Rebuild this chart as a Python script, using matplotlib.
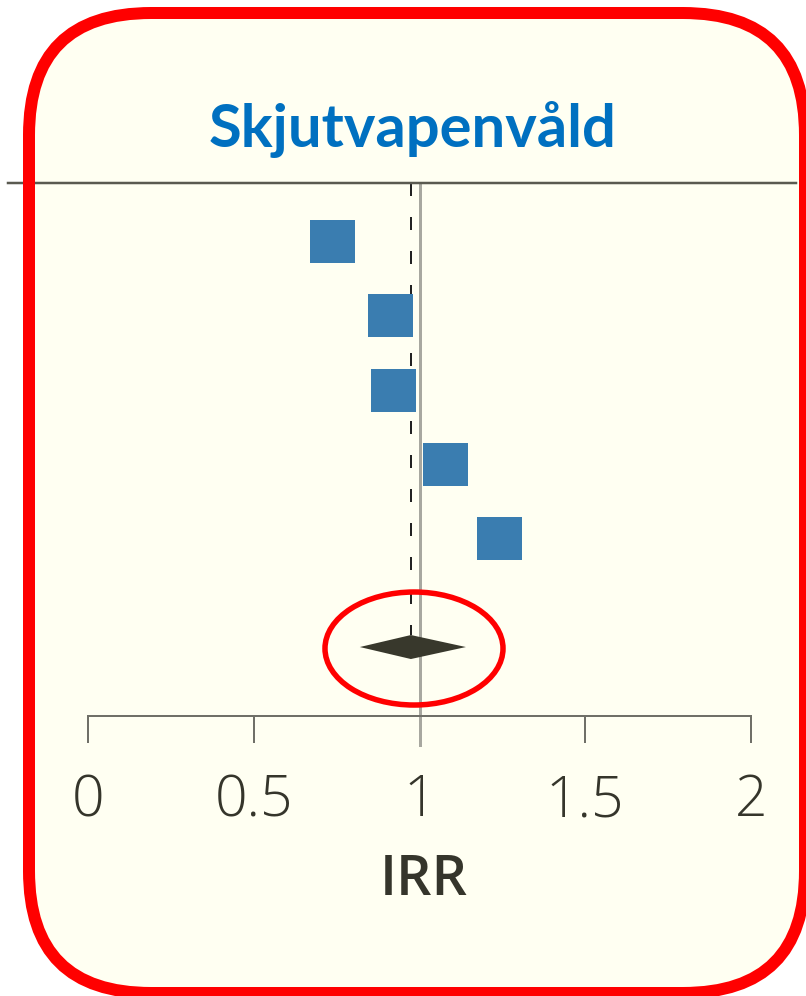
import matplotlib
matplotlib.use("Agg")
import matplotlib.pyplot as plt
from matplotlib.patches import Rectangle, Polygon, Ellipse, FancyBboxPatch
from matplotlib.transforms import IdentityTransform

# study estimates (IRR), top to bottom
irr = [0.739, 0.912, 0.923, 1.078, 1.241]
rows = [1, 2, 3, 4, 5]
# pooled estimate
pooled_est = 0.974
pooled_lo = 0.82
pooled_hi = 1.14
pooled_row = 6.464

xticks = [0, 0.5, 1, 1.5, 2]
xticklabels = ["0", "0.5", "1", "1.5", "2"]
title = "Skjutvapenvåld"
xlabel = "IRR"

W, H = 806, 996
DPI = 100
PX = 72 / DPI  # points per pixel

cream = "#fffff2"
blue_sq = "#3a7db0"
dark = "#38382c"
txt = "#35352b"

fig = plt.figure(figsize=(W / DPI, H / DPI), dpi=DPI)
fig.patch.set_facecolor("white")

# cream panel + red rounded frame (pixel coords)
box = dict(boxstyle="round,pad=0,rounding_size=122")
panel = FancyBboxPatch((29, H - 993), 776, 980, transform=IdentityTransform(),
                       facecolor=cream, edgecolor="none", zorder=-5, **box)
fig.patches.append(panel)
# flatten curves so the part running off the canvas is clipped cleanly
outline = panel.get_path().to_polygons()[0]
frame = Polygon(outline, closed=True, transform=IdentityTransform(), fill=False,
                edgecolor="#ff0000", lw=12 * PX, zorder=20)

ax = fig.add_axes([88 / W, (H - 716) / H, 663 / W, 533 / H])
ax.set_facecolor("none")
ax.set_xlim(0, 2)
ax.set_ylim(7.3935, 0.2102)
for s in ["top", "left", "right"]:
    ax.spines[s].set_visible(False)
ax.spines["bottom"].set_color("#707068")
ax.spines["bottom"].set_linewidth(2 * PX)
ax.set_yticks([])
ax.set_xticks(xticks)
ax.set_xticklabels(xticklabels, fontsize=41, color=txt, fontweight="light",
                   family=["Open Sans", "DejaVu Sans"])
ax.tick_params(axis="x", direction="out", length=27 * PX, width=2 * PX, color="#707068", pad=30 * PX)

# header rule
fig.add_artist(plt.Line2D([8 / W, 796 / W], [1 - 183 / H, 1 - 183 / H], color="#5a5a50",
                          lw=2.5 * PX, zorder=5))

# reference line at 1
ax.plot([1, 1], [0.2102, 7.784], color="#a8a8a0", lw=3 * PX, clip_on=False, zorder=2)

# dashed line at pooled estimate
sq_h = 0.5795
dm_h = 0.1617
ax.plot([pooled_est, pooled_est], [0.2102, pooled_row - dm_h], color="#222222",
        lw=2 * PX, dashes=(6.5, 10.5), dash_capstyle="butt", zorder=3)

# study squares
sq_w = 45 / 331.5
for x, r in zip(irr, rows):
    ax.add_patch(Rectangle((x - sq_w / 2, r - sq_h / 2), sq_w, sq_h,
                           facecolor=blue_sq, edgecolor="none", zorder=4))

# pooled diamond
ax.add_patch(Polygon([(pooled_lo, pooled_row), (pooled_est, pooled_row - dm_h),
                      (pooled_hi, pooled_row), (pooled_est, pooled_row + dm_h)],
                     closed=True, facecolor=dark, edgecolor="none", zorder=4))

# red highlight ellipse
ax.add_patch(Ellipse((0.9834, 6.484), 0.537, 1.523, facecolor="none",
                     edgecolor="#ff0000", lw=5.5 * PX, zorder=6, clip_on=False))

fig.text(424 / W, 1 - 895 / H, xlabel, ha="center", va="baseline", fontsize=40,
         color=txt, fontweight="semibold", family=["Open Sans", "DejaVu Sans"])
fig.text(412.6 / W, 1 - 147 / H, title, ha="center", va="baseline", fontsize=43,
         color="#0070c0", fontweight="bold", family=["Lato", "DejaVu Sans"])

fig.patches.append(frame)

fig.savefig("out.png", dpi=DPI)
